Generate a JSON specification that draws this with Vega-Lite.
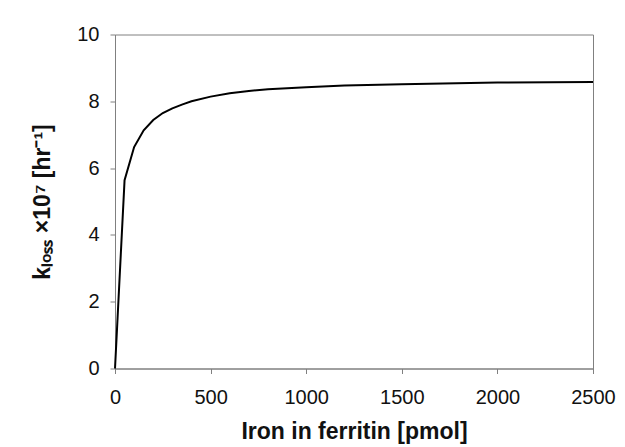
{
  "$schema": "https://vega.github.io/schema/vega-lite/v6.json",
  "autosize": {"type": "none"},
  "padding": {"left": 115, "top": 34.5, "right": 32, "bottom": 78.5},
  "width": 478,
  "height": 334,
  "background": "white",
  "data": {
    "values": [
      {"iron": 0, "kloss": 0},
      {"iron": 50, "kloss": 5.64},
      {"iron": 100, "kloss": 6.63},
      {"iron": 150, "kloss": 7.13},
      {"iron": 200, "kloss": 7.44},
      {"iron": 250, "kloss": 7.65},
      {"iron": 300, "kloss": 7.79},
      {"iron": 350, "kloss": 7.9},
      {"iron": 400, "kloss": 8.0},
      {"iron": 500, "kloss": 8.14},
      {"iron": 600, "kloss": 8.24},
      {"iron": 700, "kloss": 8.31},
      {"iron": 800, "kloss": 8.36},
      {"iron": 1000, "kloss": 8.42},
      {"iron": 1200, "kloss": 8.47},
      {"iron": 1500, "kloss": 8.51},
      {"iron": 2000, "kloss": 8.56},
      {"iron": 2500, "kloss": 8.58}
    ]
  },
  "mark": {"type": "line", "color": "black", "strokeWidth": 2},
  "encoding": {
    "x": {
      "field": "iron",
      "type": "quantitative",
      "scale": {"domain": [0, 2500], "nice": false, "zero": true},
      "axis": {
        "title": "Iron in ferritin [pmol]",
        "values": [0, 500, 1000, 1500, 2000, 2500],
        "format": "d",
        "grid": false,
        "labelFlush": false,
        "labelPadding": 14,
        "titlePadding": 13
      }
    },
    "y": {
      "field": "kloss",
      "type": "quantitative",
      "scale": {"domain": [0, 10], "nice": false},
      "axis": {
        "title": "kₗₒₛₛ ×10⁷ [hr⁻¹]",
        "values": [0, 2, 4, 6, 8, 10],
        "format": "d",
        "grid": false,
        "labelPadding": 11,
        "titlePadding": 22
      }
    }
  },
  "config": {
    "font": "Liberation Sans",
    "view": {"stroke": "#808080", "strokeWidth": 1},
    "axis": {
      "domainColor": "#808080",
      "tickColor": "#808080",
      "tickSize": 5,
      "labelFont": "Liberation Sans",
      "labelFontSize": 20,
      "labelColor": "#111111",
      "titleFont": "Liberation Sans",
      "titleFontSize": 23,
      "titleFontWeight": "bold",
      "titleColor": "#111111"
    }
  }
}
